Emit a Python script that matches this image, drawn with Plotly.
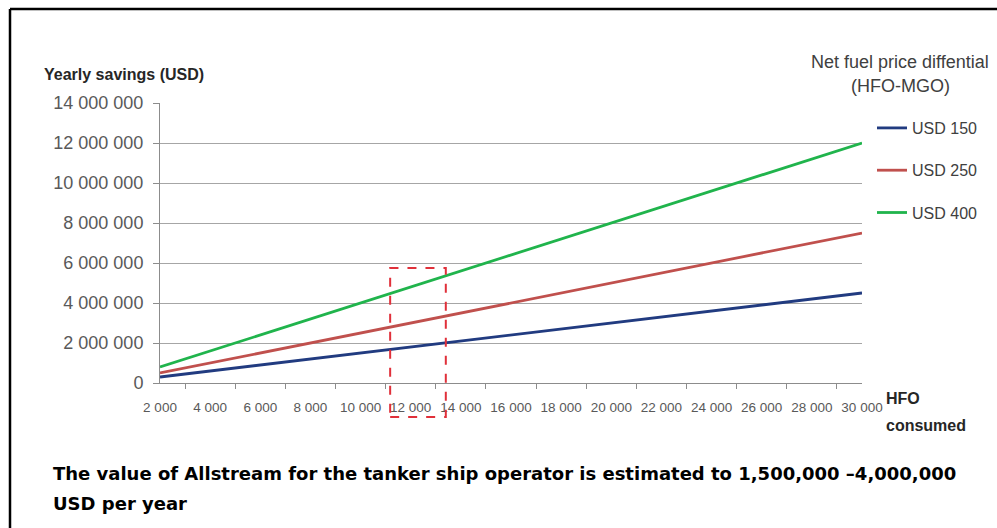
import plotly.graph_objects as go

# HFO consumed (tonnes per year) and yearly savings per fuel price differential
hfo_labels = ["2 000", "4 000", "6 000", "8 000", "10 000", "12 000", "14 000", "16 000",
              "18 000", "20 000", "22 000", "24 000", "26 000", "28 000", "30 000"]
usd150 = [300000, 600000, 900000, 1200000, 1500000, 1800000, 2100000, 2400000,
          2700000, 3000000, 3300000, 3600000, 3900000, 4200000, 4500000]
usd250 = [500000, 1000000, 1500000, 2000000, 2500000, 3000000, 3500000, 4000000,
          4500000, 5000000, 5500000, 6000000, 6500000, 7000000, 7500000]
usd400 = [800000, 1600000, 2400000, 3200000, 4000000, 4800000, 5600000, 6400000,
          7200000, 8000000, 8800000, 9600000, 10400000, 11200000, 12000000]
series_names = ["USD 150", "USD 250", "USD 400"]
series_colors = ["#213b80", "#c0504d", "#20b44c"]

y_tickvals = [0, 2000000, 4000000, 6000000, 8000000, 10000000, 12000000, 14000000]
y_ticktext = ["0", "2 000 000", "4 000 000", "6 000 000", "8 000 000",
              "10 000 000", "12 000 000", "14 000 000"]

W, H = 997, 528


def px_x(p):
    return p / W


def px_y(p):
    return (H - p) / H


fig = go.Figure()
for i, (name, vals, col) in enumerate(zip(series_names, [usd150, usd250, usd400], series_colors)):
    fig.add_trace(go.Scatter(
        x=hfo_labels, y=vals, mode="lines", name=name,
        legendgroup=f"g{i}",
        line=dict(color=col, width=2.8),
    ))

axis_grey = "#8c8c8c"
sans = "Liberation Sans, Arial, sans-serif"

fig.update_layout(
    width=W, height=H, autosize=False,
    margin=dict(l=0, r=0, t=0, b=0, pad=0, autoexpand=False),
    paper_bgcolor="white", plot_bgcolor="white",
    showlegend=True,
    legend=dict(
        x=px_x(872), y=px_y(111), xanchor="left", yanchor="top",
        font=dict(family=sans, size=16, color="#404040"),
        tracegroupgap=18.5, itemwidth=30, bgcolor="rgba(0,0,0,0)",
    ),
    xaxis=dict(
        type="category", domain=[px_x(160), px_x(862)], automargin=False,
        showgrid=False, showline=True, linecolor=axis_grey, linewidth=1,
        ticks="outside", tickson="boundaries", ticklen=5, tickcolor=axis_grey,
        tickfont=dict(family=sans, size=13.5, color="#595959"),
        tickangle=0, ticklabelstandoff=12,
        anchor="y",
    ),
    yaxis=dict(
        domain=[px_y(383), px_y(103)], range=[0, 14000000], automargin=False,
        tickvals=y_tickvals, ticktext=y_ticktext,
        showgrid=True, gridcolor="#a6a6a6", gridwidth=1,
        showline=True, linecolor=axis_grey, linewidth=1,
        ticks="outside", ticklen=6, tickcolor=axis_grey,
        tickfont=dict(family=sans, size=18, color="#595959"),
        ticklabelstandoff=6,
        zeroline=False, anchor="x",
    ),
)

# outer frame (left and top edges)
frame = dict(color="black", width=2.5)
fig.add_shape(type="line", xref="paper", yref="paper",
              x0=px_x(10), x1=1, y0=px_y(9), y1=px_y(9), line=frame)
fig.add_shape(type="line", xref="paper", yref="paper",
              x0=px_x(10), x1=px_x(10), y0=px_y(9), y1=0, line=frame)

# highlighted consumption range around 12 000 - 14 000
fig.add_shape(type="rect", xref="x", yref="paper",
              x0=4.59, x1=5.7, y0=px_y(417), y1=px_y(268),
              line=dict(color="#e0303a", width=2, dash="dash"),
              fillcolor="rgba(0,0,0,0)", layer="above")

fig.add_annotation(xref="paper", yref="paper", x=px_x(42), y=px_y(74),
                   xanchor="left", yanchor="middle", showarrow=False,
                   text="<b>Yearly savings (USD)</b>",
                   font=dict(family=sans, size=16, color="#262626"))
fig.add_annotation(xref="paper", yref="paper", x=px_x(900), y=px_y(62),
                   xanchor="center", yanchor="middle", showarrow=False,
                   text="Net fuel price diffential",
                   font=dict(family=sans, size=18, color="#404040"))
fig.add_annotation(xref="paper", yref="paper", x=px_x(900), y=px_y(86),
                   xanchor="center", yanchor="middle", showarrow=False,
                   text="(HFO-MGO)",
                   font=dict(family=sans, size=18, color="#404040"))
fig.add_annotation(xref="paper", yref="paper", x=px_x(884), y=px_y(398),
                   xanchor="left", yanchor="middle", showarrow=False,
                   text="<b>HFO</b>",
                   font=dict(family=sans, size=16, color="#262626"))
fig.add_annotation(xref="paper", yref="paper", x=px_x(884), y=px_y(425),
                   xanchor="left", yanchor="middle", showarrow=False,
                   text="<b>consumed</b>",
                   font=dict(family=sans, size=16, color="#262626"))

heavy = "DejaVu Sans, sans-serif"
fig.add_annotation(xref="paper", yref="paper", x=px_x(51), y=px_y(473),
                   xanchor="left", yanchor="middle", showarrow=False,
                   text="<b>The value of Allstream for the tanker ship operator is estimated to 1,500,000 \u20134,000,000</b>",
                   font=dict(family=heavy, size=18, color="black"))
fig.add_annotation(xref="paper", yref="paper", x=px_x(51), y=px_y(503),
                   xanchor="left", yanchor="middle", showarrow=False,
                   text="<b>USD per year</b>",
                   font=dict(family=heavy, size=18, color="black"))

fig.write_html("out.html")
